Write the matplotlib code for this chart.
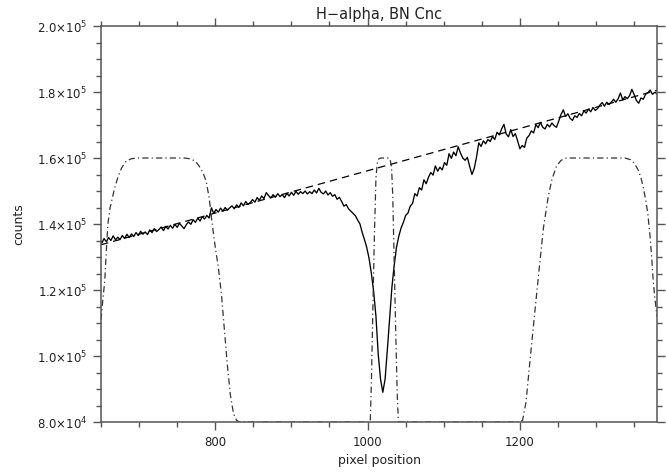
import numpy as np
import matplotlib
matplotlib.use("Agg")
import matplotlib.pyplot as plt
from matplotlib.ticker import MultipleLocator, FuncFormatter

# ---------------- data ----------------
title = "H\u2212alpha, BN Cnc"
xlabel = "pixel position"
ylabel = "counts"

# spectrum sampled every 3 pixels starting at 648 (values in thousands of counts)
spec_start = 648
spec_step = 3
spec_k = [
    135.0, 134.2, 135.6, 134.6, 135.9, 135.0, 136.4, 135.2, 136.0, 135.3,
    136.5, 135.6, 136.9, 135.9, 137.0, 136.2, 137.4, 136.5, 137.8, 136.9,
    137.6, 136.8, 138.2, 137.4, 138.6, 137.7, 138.3, 139.1, 138.0, 139.3,
    138.5, 139.6, 138.7, 139.9, 139.0, 140.2, 139.4, 138.6, 139.8, 140.6,
    139.9, 141.3, 140.5, 141.8, 140.9, 142.2, 141.5, 142.6, 141.8, 144.9,
    143.2, 144.4, 143.6, 144.8, 143.9, 145.0, 144.2, 144.9, 145.5, 144.6,
    145.8, 145.0, 146.4, 145.5, 146.8, 145.9, 146.5, 147.4, 146.6, 148.0,
    147.2, 148.5, 147.7, 149.5, 148.6, 147.9, 148.9, 148.1, 149.2, 148.3,
    148.9, 148.0, 149.3, 148.5, 149.6, 148.7, 149.9, 149.0, 149.8, 149.2,
    150.0, 149.1, 149.8, 149.2, 150.3, 149.4, 150.8, 149.6, 149.1, 150.0,
    148.8, 149.5, 148.4, 148.9, 147.5, 148.1, 146.8, 145.4, 145.9, 144.6,
    143.9, 143.2, 142.5, 141.2, 140.0, 137.4, 135.2, 132.8, 129.5, 125.0,
    119.5, 112.0, 100.5, 93.0, 89.0, 93.0, 102.0, 111.5, 121.0, 127.5,
    133.0, 136.3, 138.8, 140.5, 142.6, 143.3, 145.4, 146.2, 149.2, 148.5,
    151.0, 150.3, 153.4, 152.2, 154.2, 155.6, 154.8, 157.6, 156.0, 157.2,
    156.4, 158.6, 157.8, 161.3, 159.9, 161.8, 160.7, 163.4, 161.5, 160.0,
    159.3, 160.2, 157.5, 155.0, 156.8, 160.2, 164.6, 163.5, 165.2, 164.3,
    165.6, 165.0, 166.5, 165.6, 167.8, 167.0, 168.8, 170.2, 167.3, 166.4,
    168.6, 166.5, 167.4, 165.2, 162.8, 163.8, 163.2, 166.0, 166.8, 168.2,
    167.6, 170.1, 169.2, 170.8, 169.3, 168.8, 170.2, 169.4, 170.6, 169.8,
    169.3, 171.2, 173.2, 174.6, 172.6, 173.4, 172.0, 171.4, 172.8, 172.3,
    173.5, 172.8, 174.3, 173.6, 174.8, 174.0, 175.3, 174.4, 175.0, 176.0,
    176.8, 175.7, 176.9, 176.2, 176.9, 177.8, 176.9, 178.0, 179.7, 177.6,
    178.6, 178.0, 178.9, 180.8, 179.2, 177.4, 176.6, 178.2, 177.8, 179.3,
    179.8, 180.6, 179.3, 179.9, 179.5,
]

# continuum (dashed line), thousands
cont_x = [650, 1380]
cont_k = [133.7, 180.5]

# filter transmission profiles (dash-dot), thousands
filt_x = [
    650, 652, 655, 657, 659, 662, 665, 668, 672, 677, 683, 690, 700,
    760, 768, 774, 779, 784, 788, 792, 796, 800, 804, 808, 812, 816, 820, 824, 828, 832,
    1003.5, 1005, 1007, 1009, 1011, 1013, 1015, 1018, 1026, 1029.5, 1031.5, 1033, 1035, 1037, 1039, 1040.5,
    1198, 1203.5, 1208, 1213, 1219, 1226, 1231, 1237, 1242, 1248, 1254, 1261,
    1338, 1345, 1350, 1355, 1359, 1362, 1365, 1368, 1371, 1373, 1375, 1377, 1380,
]
filt_k = [
    111, 116, 123, 132, 140, 145, 148, 151, 154, 157, 159, 159.8, 160,
    160, 159.7, 159, 157.5, 155.5, 153, 148, 140, 133, 127, 119, 108, 97, 88, 82.5, 80.5, 80,
    80, 92, 115, 137, 154, 159, 159.8, 160, 160, 159.8, 157, 149, 128, 107, 88, 80,
    80, 80.5, 86, 98, 112, 128, 139, 148, 153.5, 157.5, 159.3, 160,
    160, 159.5, 158.5, 156.5, 154, 151, 147.5, 143, 136, 130, 123, 118, 112,
]

# axis ranges / ticks
xlim = (650, 1380)
ylim = (80000, 200000)

# ---------------- plot ----------------
fig = plt.figure(figsize=(6.66, 4.75), dpi=100)
ax = fig.add_axes([101/666, 1-422/475, (657-101)/666, (422-26)/475])

spec_x = spec_start + spec_step*np.arange(len(spec_k))
ax.plot(spec_x, np.array(spec_k)*1000, color='black', lw=0.95)
ax.plot(cont_x, np.array(cont_k)*1000, color='black', lw=0.9, dashes=(6, 4))
ax.plot(filt_x, np.array(filt_k)*1000, color='#333333', lw=0.9, dashes=(5, 2.5, 1, 2.5))

ax.set_xlim(*xlim)
ax.set_ylim(*ylim)

ax.xaxis.set_major_locator(MultipleLocator(200))
ax.xaxis.set_minor_locator(MultipleLocator(50))
ax.yaxis.set_major_locator(MultipleLocator(20000))
ax.yaxis.set_minor_locator(MultipleLocator(5000))

def yfmt(v, pos):
    e = int(np.floor(np.log10(v)))
    m = v / 10**e
    return f"{m:.1f}\u00d710$^{{{e}}}$"
ax.yaxis.set_major_formatter(FuncFormatter(yfmt))

spine_c = '#555555'
for s in ax.spines.values():
    s.set_color(spine_c)
    s.set_linewidth(1.1)
ax.tick_params(which='both', direction='out', top=True, right=True,
               color=spine_c, width=1.0, labelsize=8.5, labelcolor='#222222')
ax.tick_params(which='major', length=6, pad=4)
ax.tick_params(which='minor', length=3.5)

ax.set_title(title, fontsize=10.5, color='#222222', pad=5)
ax.set_xlabel(xlabel, fontsize=9, color='#222222', labelpad=4)
ax.set_ylabel(ylabel, fontsize=9, color='#222222', labelpad=8)

fig.savefig("out.png", dpi=100)
